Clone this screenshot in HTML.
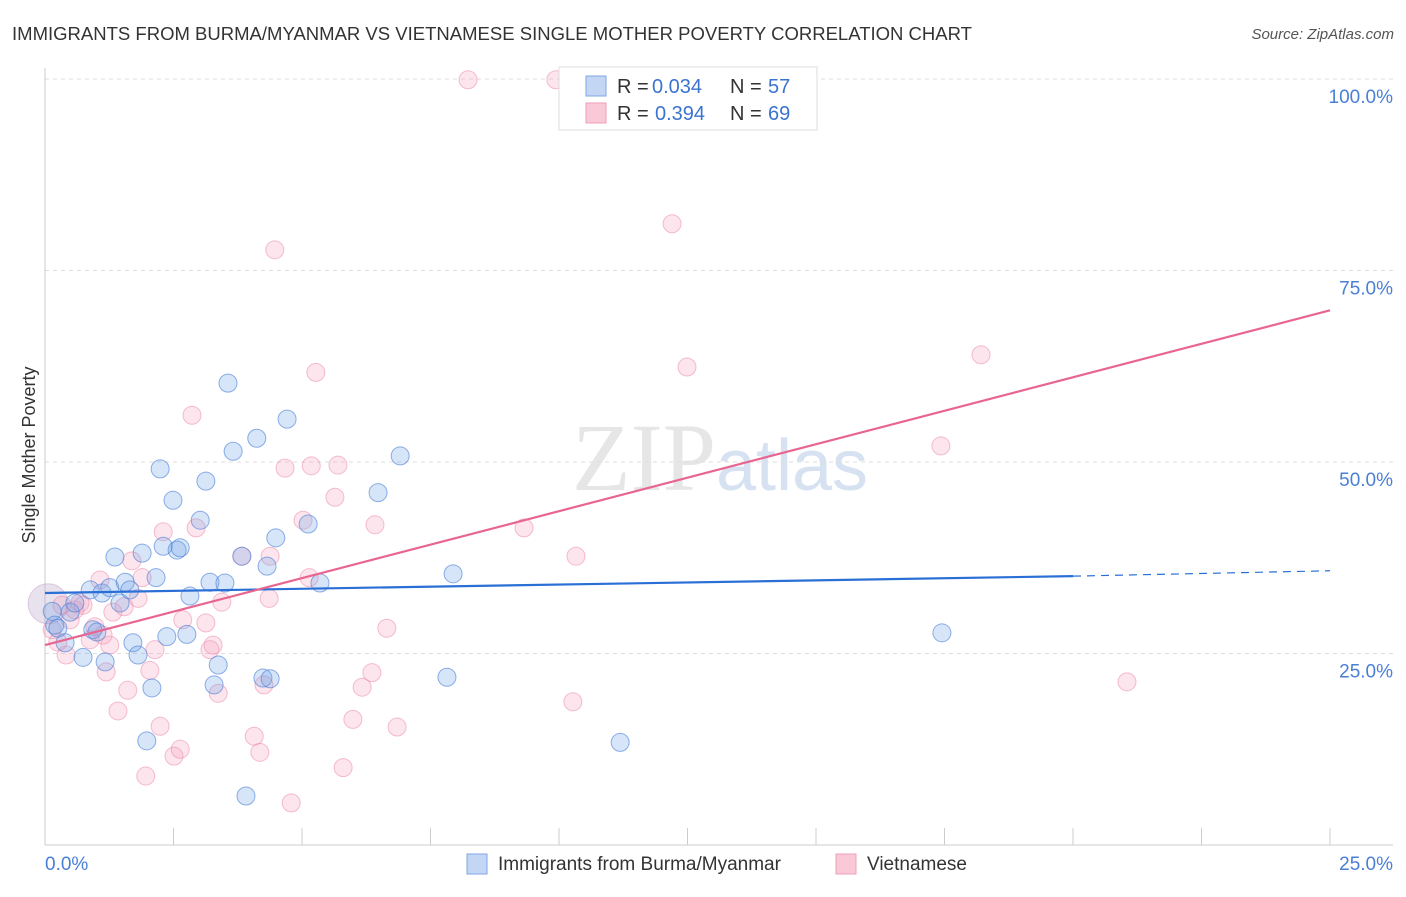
<!DOCTYPE html>
<html><head><meta charset="utf-8"><style>
body{margin:0;background:#fff;font-family:"Liberation Sans",sans-serif;}
</style></head><body>
<svg id="chart" width="1406" height="892" xmlns="http://www.w3.org/2000/svg">
<text x="12" y="40" font-size="18" fill="#333" textLength="960" lengthAdjust="spacingAndGlyphs">IMMIGRANTS FROM BURMA/MYANMAR VS VIETNAMESE SINGLE MOTHER POVERTY CORRELATION CHART</text>
<text x="1394" y="39" font-size="15" fill="#555" font-style="italic" text-anchor="end">Source: ZipAtlas.com</text>
<text x="720" y="490" font-size="96" fill="#e6e6e6" text-anchor="middle" font-family="Liberation Serif,serif">ZIP<tspan fill="#d6e2f2" font-family="Liberation Sans,sans-serif" font-size="72">atlas</tspan></text>
<g id="grid"></g>
<line x1="45" y1="68" x2="45" y2="845" stroke="#ccc"/>
<line x1="45" y1="845" x2="1393" y2="845" stroke="#ccc"/>
<text x="35" y="455" font-size="18" fill="#333" text-anchor="middle" transform="rotate(-90 35 455)">Single Mother Poverty</text>
<text x="45" y="870" font-size="19" fill="#4a7fd6">0.0%</text>
<text x="1393" y="870" font-size="19" fill="#4a7fd6" text-anchor="end">25.0%</text>
<g id="pts"></g>
<g id="lines"></g>
<g>
<rect x="559" y="67" width="258" height="63" fill="#fff" stroke="#ddd"/>
<rect x="586" y="76" width="20" height="20" fill="#c3d7f5" stroke="#7fa6e6"/>
<rect x="586" y="103" width="20" height="20" fill="#f9c9d8" stroke="#f0a0b8"/>
<text x="617" y="93" font-size="20" fill="#333">R =</text>
<text x="652" y="93" font-size="20" fill="#3b73d1">0.034</text>
<text x="730" y="93" font-size="20" fill="#333">N =</text>
<text x="768" y="93" font-size="20" fill="#3b73d1">57</text>
<text x="617" y="120" font-size="20" fill="#333">R =</text>
<text x="655" y="120" font-size="20" fill="#3b73d1">0.394</text>
<text x="730" y="120" font-size="20" fill="#333">N =</text>
<text x="768" y="120" font-size="20" fill="#3b73d1">69</text>
</g>
<g>
<rect x="467" y="854" width="20" height="20" fill="#c3d7f5" stroke="#7fa6e6"/>
<text x="498" y="870" font-size="19" fill="#333">Immigrants from Burma/Myanmar</text>
<rect x="836" y="854" width="20" height="20" fill="#f9c9d8" stroke="#f0a0b8"/>
<text x="867" y="870" font-size="19" fill="#333">Vietnamese</text>
</g>
</svg>
<script>
const yTicks=[25,50,75,100];
const yTickLabels=["25.0%","50.0%","75.0%","100.0%"];
const xTicks=[0,2.5,5,7.5,10,12.5,15,17.5,20,22.5,25];
const blueX=[0.14,0.19,0.25,0.39,0.49,0.58,0.74,0.88,0.93,1.01,1.11,1.17,1.26,1.36,1.46,1.56,1.65,1.71,1.81,1.89,1.98,2.08,2.16,2.24,2.30,2.37,2.49,2.57,2.63,2.76,2.82,3.02,3.13,3.21,3.37,3.29,3.50,3.56,3.66,3.83,3.91,4.12,4.24,4.32,4.38,4.49,4.71,5.12,5.35,6.48,6.91,7.82,7.94,11.19,17.45];
const blueY=[30.5,28.7,28.3,26.4,30.4,31.6,24.5,33.3,28.1,27.8,32.9,23.9,33.6,37.6,31.6,34.3,33.3,26.4,24.8,38.1,13.6,20.5,34.9,49.1,39.0,27.2,45.0,38.5,38.8,27.5,32.5,42.4,47.5,34.3,23.5,20.9,34.2,60.3,51.4,37.7,6.4,53.1,21.8,36.4,21.7,40.1,55.6,41.9,34.2,46.0,50.8,21.9,35.4,13.4,27.7];
const pinkX=[0.14,0.25,0.33,0.41,0.49,0.58,0.68,0.74,0.88,0.97,1.07,1.13,1.19,1.26,1.32,1.42,1.54,1.61,1.69,1.81,1.89,1.96,2.04,2.14,2.24,2.30,2.51,2.63,2.68,2.86,2.94,3.13,3.21,3.27,3.37,3.44,3.83,4.07,4.18,4.26,4.38,4.47,4.36,4.67,4.79,5.02,5.14,5.27,5.18,5.64,5.70,5.80,5.99,6.17,6.36,6.42,6.65,6.85,8.23,9.32,9.94,10.27,10.33,12.20,12.49,17.43,18.21,21.05];
const pinkY=[28.1,26.5,31.3,24.8,29.4,30.7,31.6,31.3,26.8,28.5,34.6,27.4,22.6,26.1,30.4,17.5,31.1,20.2,37.1,32.2,34.9,9.0,22.8,25.5,15.5,40.9,11.6,12.5,29.4,56.1,41.4,29.0,25.5,26.1,19.8,31.7,37.7,14.2,12.1,20.9,37.7,77.7,32.2,49.2,5.5,42.4,34.9,61.7,49.5,45.4,49.6,10.1,16.4,20.6,22.5,41.8,28.3,15.4,99.9,41.4,99.9,18.7,37.7,81.1,62.4,52.1,64.0,21.3];
const bigX=[0.06],bigY=[31.5];
const blueTrend=[0,32.9,20,35.1,25,35.8];
const pinkTrend=[0,26.1,25,69.8];
const NS="http://www.w3.org/2000/svg";
const sx=v=>45+v/25*1285, sy=v=>845-v/100*766;
function mk(t,a,p){const e=document.createElementNS(NS,t);for(const k in a)e.setAttribute(k,a[k]);p.appendChild(e);return e;}
const grid=document.getElementById('grid');
yTicks.forEach((t,i)=>{
 const l=mk('line',{x1:45,x2:1393,y1:sy(t),y2:sy(t),stroke:'#ddd','stroke-dasharray':'4,4'},grid);
 
 
 const tx=mk('text',{x:1393,y:sy(t)+24,'font-size':19,fill:'#4a7fd6','text-anchor':'end'},grid);
 tx.textContent=yTickLabels[i];
 
 
});
xTicks.forEach(t=>{
 const l=mk('line',{x1:sx(t),x2:sx(t),y1:828,y2:845,stroke:'#ccc'},grid);
 
 
});
const pts=document.getElementById('pts');
bigX.forEach((x,i)=>{
 const c=mk('circle',{cx:sx(x),cy:sy(bigY[i]),r:20,fill:'rgba(180,160,200,0.3)',stroke:'rgba(200,160,200,0.5)'},pts);
 
 
});
pinkX.forEach((x,i)=>{
 const c=mk('circle',{cx:sx(x),cy:sy(pinkY[i]),r:9,fill:'rgba(244,160,190,0.28)',stroke:'rgba(236,130,165,0.5)','stroke-width':1},pts);
 
 
});
blueX.forEach((x,i)=>{
 const c=mk('circle',{cx:sx(x),cy:sy(blueY[i]),r:9,fill:'rgba(110,160,230,0.28)',stroke:'rgba(70,125,215,0.6)','stroke-width':1},pts);
 
 
});
const lines=document.getElementById('lines');
const b1=mk('line',{x1:sx(blueTrend[0]),y1:sy(blueTrend[1]),x2:sx(blueTrend[2]),y2:sy(blueTrend[3]),stroke:'#2a6fd6','stroke-width':2.2},lines);


const b2=mk('line',{x1:sx(blueTrend[2]),y1:sy(blueTrend[3]),x2:sx(blueTrend[4]),y2:sy(blueTrend[5]),stroke:'#2a6fd6','stroke-width':1.2,'stroke-dasharray':'8,6'},lines);


const p1=mk('line',{x1:sx(pinkTrend[0]),y1:sy(pinkTrend[1]),x2:sx(pinkTrend[2]),y2:sy(pinkTrend[3]),stroke:'#e8658f','stroke-width':2.2},lines);


</script>
</body></html>
